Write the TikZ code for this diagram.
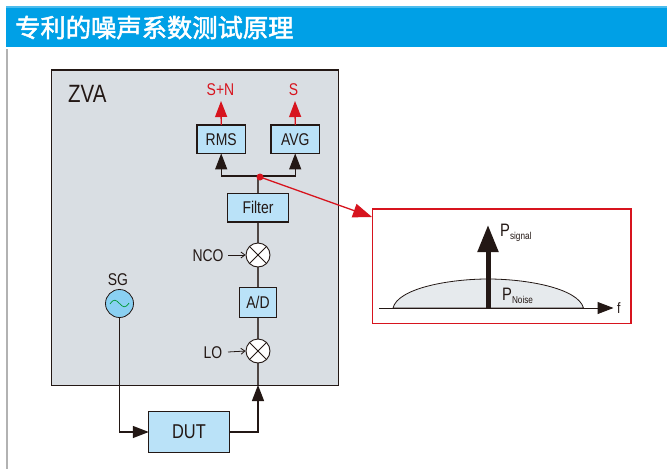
\documentclass[tikz,border=0pt]{standalone}
\usepackage{fontspec}
\setmainfont[FakeStretch=0.82]{Liberation Sans}
\newfontfamily\cjkfont{Noto Sans CJK SC}[FakeBold=2]
\usetikzlibrary{arrows.meta,calc}
\definecolor{hdr}{HTML}{00A0E6}
\definecolor{zvafill}{HTML}{D9DEE3}
\definecolor{blk}{HTML}{BAE2F8}
\definecolor{sgfill}{HTML}{8AD0F2}
\definecolor{redc}{HTML}{D7141E}
\definecolor{ink}{HTML}{231815}
\tikzset{
  blockbox/.style={fill=blk,minimum height=28pt,inner sep=0pt,font=\fontsize{17}{17}\selectfont,text=ink},
  frameline/.style={draw=ink,line width=1.3pt},
  mixer/.style={circle,draw=ink,fill=white,line width=0.9pt,minimum size=24pt,inner sep=0pt},
  wire/.style={draw=ink,line width=1.25pt},
  blackarrow/.style={wire,-{Triangle[length=16pt,width=12pt]}},
  redarrow/.style={draw=redc,line width=1.3pt,-{Triangle[length=16pt,width=12pt]}},
  lab/.style={text=ink,inner sep=0pt,font=\fontsize{17}{17}\selectfont},
  redlab/.style={text=redc,inner sep=0pt,font=\fontsize{17}{17}\selectfont},
  smallarrow/.style={draw=ink,line width=0.8pt,-{Straight Barb[length=4pt,width=6pt]}},
}
\begin{document}
\begin{tikzpicture}[x=1pt,y=-1pt]
\useasboundingbox (0,0) rectangle (667,469);
\fill[white] (0,0) rectangle (667,469);
% header
\fill[hdr!70!white] (6,6) rectangle (667,7.5);
\fill[hdr] (6,7.5) rectangle (667,47);
\node[anchor=west,inner sep=0pt,text=white,font=\fontsize{25.3}{25.3}\selectfont\cjkfont] (title) at (15,27.5) {专利的噪声系数测试原理};
\fill[black!10!gray!55!white] (6,49) rectangle (8,469);
% ZVA box
\node[fill=zvafill,minimum width=286.5pt,minimum height=315pt,inner sep=0pt,anchor=north west] (zva) at (51.5,70) {};
\draw[frameline] (zva.north west) rectangle (zva.south east);
\node[lab,anchor=west,font=\fontsize{25}{25}\selectfont] (zvat) at (68,93.5) {ZVA};
% wiring (under the blocks)
\coordinate (junc) at (258,176);
\coordinate (zvain) at (258,385);
\draw[wire,draw=ink!80!white] (junc) -- (zvain);
% blocks
\node[blockbox,minimum width=48pt] (rms) at (221.2,139.2) {RMS};
\node[blockbox,minimum width=48pt] (avg) at (295.2,139.2) {AVG};
\node[blockbox,minimum width=60pt] (filter) at (258,207.8) {Filter};
\node[mixer] (nco) at (258,255) {};
\node[blockbox,minimum width=36pt,minimum height=29pt] (ad) at (258,302.5) {A/D};
\node[mixer] (lo) at (258,351) {};
\node[circle,draw=ink,fill=sgfill,line width=0.8pt,minimum size=28pt,inner sep=0pt] (sg) at (119.5,303.5) {};
\node[blockbox,minimum width=80pt,minimum height=40pt,font=\fontsize{20}{20}\selectfont] (dut) at (189,432) {DUT};
\foreach \b in {rms,avg,filter}{
  \draw[frameline] (\b.north west) rectangle (\b.south east);
}
\foreach \b in {ad,dut}{
  \draw[frameline,line width=1pt] (\b.north west) rectangle (\b.south east);
}
% mixer crosses
\foreach \m in {nco,lo}{
  \draw[draw=ink,line width=0.9pt] (\m.north east) -- (\m.south west) (\m.north west) -- (\m.south east);
}
% sine in SG
\draw[draw=green!50!black!80!cyan,line width=0.7pt] (110,304) .. controls (114,298) and (116,300) .. (119.5,303.5) .. controls (123,307) and (125,309) .. (129,303);
% labels
\node[redlab] (snt) at (220.5,90) {S+N};
\node[redlab] (st) at (293.5,90) {S};
\node[lab] (sgt) at (118,280) {SG};
\node[lab] (ncot) at (208,255.5) {NCO};
\node[lab] (lot) at (213,353) {LO};
\coordinate (ncoin) at (228,255);
\coordinate (loin) at (228,352);
\draw[smallarrow] (ncoin) -- (nco.west);
\draw[smallarrow] (loin) -- (lo.west);
% red output arrows
\coordinate (sntip) at (221,101);
\coordinate (stip) at (295,101);
\draw[redarrow] (rms.north) -- (sntip);
\draw[redarrow] (avg.north) -- (stip);
% branches
\draw[blackarrow] (junc) -| (rms.south);
\draw[blackarrow] (junc) -| (avg.south);
\draw[blackarrow] (sg.south) |- (dut.west);
\draw[blackarrow] (dut.east) -| (zvain);
% inset
\node[minimum width=258pt,minimum height=114pt,inner sep=0pt,anchor=north west] (inset) at (372.5,209) {};
\draw[draw=redc,line width=1.3pt] (inset.north west) rectangle (inset.south east);
\coordinate (dot) at (260,177);
\coordinate (insetc) at (372,217);
\draw[redarrow,line width=1.3pt,-{Triangle[length=19pt,width=14pt]}] (dot) -- (insetc);
\fill[redc] (dot) circle (3.5pt);
% spectrum
\coordinate (noiseL) at (393,308);
\coordinate (noiseR) at (583.5,308);
\draw[draw=ink,line width=0.8pt,fill=zvafill!65!white] (noiseL) .. controls (398,288) and (450,279) .. (488,279) .. controls (526,279) and (578,288) .. (noiseR) -- cycle;
\coordinate (axl) at (379,308);
\coordinate (axr) at (613.5,308);
\draw[draw=ink,line width=1pt,-{Triangle[length=16pt,width=12pt]}] (axl) -- (axr);
\coordinate (sigb) at (488,308);
\coordinate (sigt) at (488,225);
\draw[draw=ink,line width=5pt,-{Triangle[length=27pt,width=20pt]}] (sigb) -- (sigt);
\node[lab,anchor=west,font=\fontsize{15}{15}\selectfont] (ft) at (617,308.5) {f};
\node[lab,anchor=base west,font=\fontsize{18}{18}\selectfont] (ps) at (500,236) {P\raisebox{-3.5pt}{\fontsize{10}{10}\selectfont signal}};
\node[lab,anchor=base west,font=\fontsize{18}{18}\selectfont] (pn) at (502,300) {P\raisebox{-3.5pt}{\fontsize{10}{10}\selectfont Noise}};
\end{tikzpicture}
\end{document}
